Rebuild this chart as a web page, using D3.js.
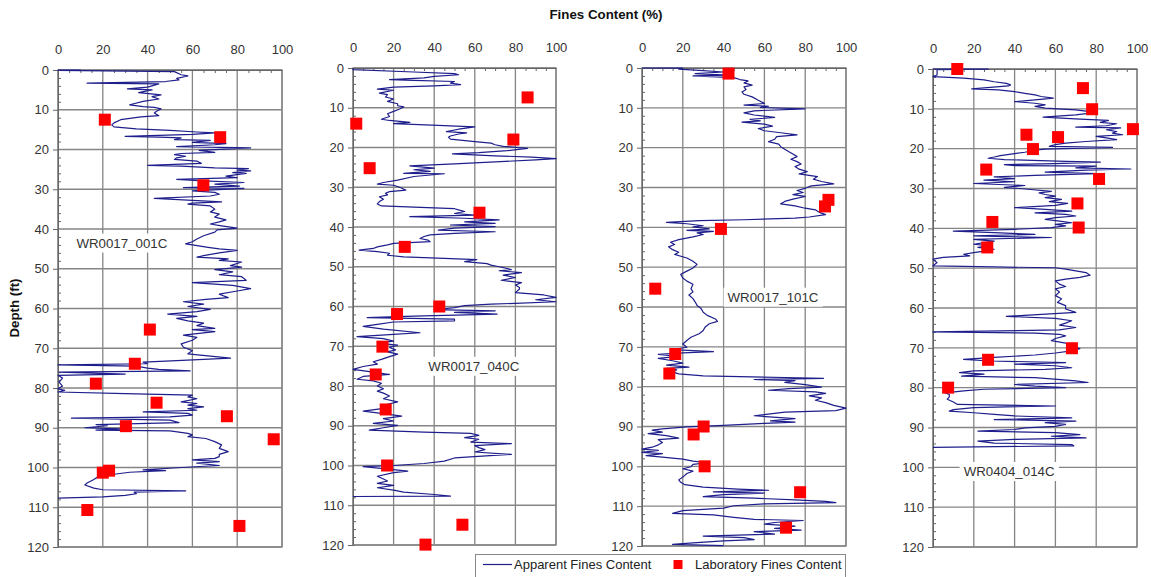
<!DOCTYPE html>
<html>
<head>
<meta charset="utf-8">
<script src="https://cdn.jsdelivr.net/npm/d3@7"></script>
<style>
  body { margin: 0; background: #fff; }
  text { font-family: "Liberation Sans", Arial, sans-serif; }
</style>
</head>
<body>
<svg width="1151" height="577"></svg>
<script>
// [depth (ft), fines (%)]
const trace001C = [
  [0,0],[0.05,10],[0.1,0],[0.4,52],[1.2,55],[1.5,58],[2.1,53],[2.5,54],[2.9,48],[3.3,13],[3.5,45],[4.3,40],[4.75,31],[5,42],[5.7,36],[6.25,46],[6.7,42],[7.3,45],[7.9,38],[8.75,32],[9.2,38],[9.4,43],[9.8,46],[10.4,44],[10.8,43],[11.5,45],[11.8,37],[12.5,28],[13.3,25],[13.8,24],[14.3,25],[14.8,35],[15.2,50],[15.6,62],[15.8,70],[16.2,60],[16.7,30],[16.9,45],[17.1,55],[17.5,52],[17.7,68],[18.2,60],[18.5,75],[18.8,70],[19.3,53],[19.6,86],[20.2,63],[20.7,70],[21,55],[21.3,52],[21.7,57],[22.1,53],[22.5,52],[22.9,62],[23.5,64],[24,40],[24.2,55],[24.6,70],[24.8,85],[25.2,80],[25.4,86],[25.8,78],[26,84],[26.7,75],[27.1,80],[27.5,53],[27.9,65],[28.3,83],[28.7,70],[29.2,81],[29.6,56],[29.8,83],[30.4,60],[30.8,70],[31.25,72],[31.7,68],[32.3,43],[32.8,60],[33.2,73],[33.5,60],[33.75,58],[34.2,68],[35,70],[35.7,68],[36.25,72],[37,70],[37.7,75],[38.2,72],[38.75,68],[39.2,73],[39.8,80],[40.2,71],[40.8,70],[41.7,65],[42.5,62],[43.2,60],[43.75,57],[44,60],[44.6,67],[45,72],[45.4,80],[46,72],[46.7,65],[47.1,62],[47.5,76],[47.9,72],[48.3,82],[49.2,77],[49.6,82],[50.2,70],[50.8,78],[51.5,72],[52,82],[52.9,84],[53.5,60],[54.2,78],[55,86],[55.6,80],[56.4,72],[57.25,76],[57.7,66],[58.3,56],[58.9,65],[59.5,58],[60.2,68],[60.8,62],[61.4,49],[62,62],[62.5,53],[63.1,58],[63.7,65],[64.3,62],[65,70],[65.3,60],[65.8,70],[66.7,56],[67.25,62],[68,60],[68.9,55],[69.75,56],[70.6,60],[71.4,58],[72,68],[72.5,77],[73.1,53],[73.5,38],[73.9,40],[74.2,0],[74.5,35],[75,40],[75.3,45],[75.7,59],[76,0.5],[76.5,30],[76.8,0],[77.5,2],[78.5,0.5],[79.5,2],[80.2,0],[80.6,3],[81,0],[81.4,30],[81.8,60],[82.25,58],[82.7,62],[83.5,55],[83.9,62],[84.3,58],[84.75,65],[85.2,58],[85.6,62],[86,38],[86.4,58],[86.8,60],[87.25,50],[87.6,6],[88.1,50],[88.7,54],[89.2,17],[89.5,22],[90,12],[90.3,28],[90.6,17],[90.8,50],[91.4,58],[91.8,60],[92.25,58],[92.7,66],[93.5,70],[94.3,73],[95.2,72],[96,76],[96.7,72],[97.25,72],[97.7,70],[98.1,60],[98.5,72],[98.9,62],[99.5,72],[100,55],[100.6,38],[100.8,48],[101.2,32],[101.7,25],[102.25,18],[103,16],[103.9,13],[104.4,12],[105.2,16],[105.6,20],[105.9,57],[106.2,34],[106.6,35],[107,30],[107.4,20],[107.7,0]
];
const lab001C = [
  [12.5,20.9],[16.9,72.4],[29,64.9],[65.3,41],[73.9,34.3],[78.9,16.9],[83.7,44],[87.1,75.4],[89.6,30.3],[92.9,96.3],[101.3,20],[100.8,22.8],[110.7,13.1],[114.7,81]
];

const trace040C = [
  [0,0],[0.4,0],[1,30],[1.4,50],[1.7,52],[2.1,40],[2.5,35],[2.9,18],[3.1,30],[3.4,50],[3.8,48],[4.2,53],[4.5,40],[4.8,20],[5.3,12],[5.6,20],[6.3,13],[6.7,17],[7.3,16],[7.8,20],[8.4,17],[9,22],[9.5,22],[9.8,25],[10.3,23],[10.9,20],[11.5,17],[12.2,18],[12.9,14],[13.2,18],[13.7,28],[14,20],[14.5,45],[14.8,60],[15.4,52],[16,46],[16.3,56],[16.6,52],[17.1,48],[17.4,47],[17.9,48],[18.5,60],[18.9,68],[19.3,70],[19.7,74],[20.2,86],[20.8,76],[21.3,62],[21.6,49],[22.1,70],[22.4,88],[22.8,100],[23.1,90],[23.5,75],[24.1,50],[24.6,28],[25.2,40],[25.6,30],[26,38],[26.5,25],[26.6,45],[27.3,30],[28.2,22],[28.8,15],[29.2,12],[29.5,20],[30,23],[30.7,26],[31.1,18],[31.5,16],[31.9,17],[32.4,13],[33,15],[33.6,13],[34.2,12],[34.7,14],[35,30],[35.4,50],[35.7,52],[36.1,55],[36.6,50],[37,60],[37.4,28],[37.8,55],[38.2,72],[38.7,55],[39.1,70],[39.5,48],[39.9,70],[40.3,50],[40.8,42],[41.2,70],[41.6,50],[42,38],[42.4,35],[42.9,33],[43.3,37],[43.7,38],[44.1,20],[44.5,17],[45,12],[45.4,10],[45.8,3],[46.2,12],[46.6,18],[47.1,17],[47.5,25],[47.9,45],[48.2,61],[48.7,55],[49.2,66],[49.6,68],[50,72],[50.7,78],[51,72],[51.5,83],[52.1,74],[52.7,80],[53.4,73],[54,83],[54.6,80],[55.2,82],[55.6,82],[56.5,80],[57.1,94],[57.7,100],[58.3,90],[58.8,100],[59.2,80],[59.4,68],[59.8,55],[60.3,50],[60.8,40],[61.1,70],[61.5,50],[61.9,71],[62.4,30],[62.8,7],[63.2,50],[63.6,50],[63.9,20],[64.5,12],[65,5],[65.7,15],[66.6,33],[67,20],[67.6,2],[68.1,15],[68.7,20],[69.2,12],[69.7,22],[70.3,18],[70.9,21],[71.4,17],[72,22],[72.6,18],[73.3,14],[73.9,10],[74.5,12],[75.1,5],[75.8,0],[76.5,10],[77.1,18],[77.6,5],[78.3,2],[78.7,10],[79.3,14],[80,12],[80.7,15],[81.3,12],[81.8,15],[82.5,18],[83.2,15],[84,22],[84.6,17],[85.5,17],[86.3,5],[86.9,14],[87.6,24],[88.2,15],[88.8,20],[89.4,10],[89.9,22],[90.5,15],[91.1,8],[91.6,35],[91.9,58],[92.4,62],[93,55],[93.4,62],[94.1,58],[94.5,78],[95,60],[95.5,62],[96,65],[96.6,60],[97.2,78],[98.1,50],[98.9,45],[99.5,35],[100,20],[100.3,5],[100.8,15],[101.4,27],[101.8,20],[102.7,12],[103.4,15],[103.9,17],[104.5,12],[105,20],[105.6,12],[106.2,20],[106.7,25],[107.3,40],[107.7,48],[107.8,0]
];
const lab040C = [
  [7.4,86],[14,1.6],[18,79],[25.2,8.2],[36.4,62.3],[45,25.5],[60,42.5],[61.9,21.7],[70.1,14.5],[77.1,11.2],[85.9,16.1],[100,16.8],[114.9,53.9],[119.9,35.7]
];

const trace101C = [
  [0,0],[0.05,20],[0.3,18],[0.6,28],[1,40],[1.4,26],[1.8,42],[2,25],[2.4,45],[2.9,48],[3.25,52],[3.75,50],[4.3,54],[4.75,50],[5.4,51],[6,49],[6.6,50],[7.25,54],[8.1,57],[8.9,60],[9.3,50],[9.6,62],[9.9,58],[10.25,80],[10.75,55],[11.25,50],[11.8,55],[12.4,65],[12.9,53],[13.25,58],[13.6,49],[14.1,60],[14.6,64],[15.2,57],[15.75,60],[16.25,68],[16.8,76],[17.25,66],[17.9,65],[18.5,62],[19.1,67],[19.75,68],[20.4,70],[21,72],[21.6,74],[22.25,76],[22.9,73],[23.5,76],[24.1,78],[24.75,75],[25.4,77],[26,81],[26.6,77],[27.25,86],[27.9,84],[28.5,88],[29.1,94],[29.6,83],[30.2,80],[30.75,76],[31.25,79],[31.8,74],[32.25,80],[32.9,74],[33.5,70],[34.1,68],[34.6,75],[35.2,80],[35.6,85],[36.25,87],[36.8,90],[37.4,82],[37.7,75],[38.1,50],[38.3,28],[38.75,12],[39.1,22],[39.6,30],[39.9,25],[40.4,33],[40.75,22],[41,35],[41.4,27],[41.8,30],[42.4,25],[43.1,18],[43.75,14],[44.3,16],[44.9,13],[45.6,15],[46.25,18],[46.8,16],[47.7,22],[48.5,25],[49.3,27],[50.2,25],[51,22],[51.8,19],[52.7,20],[53.5,22],[54.3,25],[55.4,24],[56.2,25],[57,23],[57.9,25],[58.7,26],[59.6,27],[60.4,29],[61.3,30],[62.1,32],[63,36],[63.6,37],[64.2,33],[65,31],[65.9,30],[66.7,28],[67.6,24],[68.4,22],[69.3,20],[70.1,22],[70.7,15],[71.2,35],[71.5,20],[71.9,8],[72.4,18],[72.9,8],[73.5,15],[74.1,20],[74.6,12],[75.1,23],[75.4,12],[75.8,17],[76.3,15],[76.8,18],[77.3,30],[77.7,70],[77.9,89],[78.2,55],[78.5,75],[78.9,70],[79.5,80],[80.1,88],[80.5,72],[80.9,62],[81.3,85],[81.7,90],[82.3,82],[82.8,88],[83.4,85],[84,90],[84.7,94],[85.4,100],[86,95],[86.4,70],[87.3,55],[88,75],[88.6,63],[88.9,75],[89.2,60],[89.7,40],[90.1,22],[90.6,10],[90.9,5],[91.4,10],[91.8,3],[92.3,12],[92.9,18],[93.3,8],[94,10],[94.6,8],[95.2,5],[95.7,0],[96,8],[96.5,0],[96.8,10],[97.3,2],[97.7,10],[98.2,20],[98.7,25],[99.1,32],[99.5,25],[100.1,24],[100.6,20],[101.2,25],[101.8,22],[102.7,20],[103.4,18],[104,19],[104.6,21],[105.2,30],[105.7,47],[106,62],[106.4,35],[106.7,60],[107.1,40],[107.6,30],[108,55],[108.4,75],[108.8,90],[109.1,95],[109.4,60],[109.9,45],[110.5,40],[111.1,20],[111.8,15],[112.2,35],[112.8,45],[113.3,55],[113.6,79],[114.1,65],[114.5,60],[115,75],[115.6,65],[116,78],[116.4,55],[117,65],[117.5,30],[117.9,50],[118.4,55],[118.7,40],[119.2,25],[119.6,15],[119.9,40]
];
const lab101C = [
  [1.4,42.4],[33.1,91.4],[34.75,89.7],[40.4,38.7],[55.4,6.5],[71.8,16.3],[76.7,13.4],[90,30.2],[92,25.3],[100,30.7],[106.5,77.5],[115.4,70.6]
];

const trace014C = [
  [0,0],[0.05,27],[0.15,2],[0.4,2],[1.5,2],[1.9,0],[2.3,15],[2.75,25],[3.2,30],[3.6,36],[4,38],[4.25,37],[4.6,28],[5,19],[5.25,32],[5.7,40],[6.1,45],[6.5,50],[6.9,53],[7.3,59],[7.75,50],[8.2,40],[8.6,50],[9,55],[9.4,50],[9.8,55],[10.25,70],[10.9,80],[11.5,70],[12.1,54],[12.6,72],[12.9,86],[13.4,82],[13.75,90],[14.25,85],[14.6,70],[14.8,92],[15.25,85],[15.7,90],[16.1,88],[16.5,93],[16.9,80],[17.3,85],[17.75,90],[18.2,75],[18.6,65],[19,60],[19.4,57],[19.7,88],[20.1,55],[20.4,50],[20.9,45],[21.25,40],[21.75,33],[22.1,30],[22.4,27],[22.75,35],[23.2,65],[23.4,82],[23.75,60],[24,35],[24.25,40],[24.4,80],[24.8,70],[25.1,97],[25.4,75],[25.9,55],[26.25,80],[26.7,50],[27.1,30],[27.5,40],[27.9,25],[28.3,40],[28.75,20],[29.25,45],[29.7,35],[30.25,48],[30.7,58],[31.1,52],[31.5,55],[31.9,60],[32.3,55],[32.75,63],[33.3,57],[33.75,66],[34.25,60],[34.8,40],[35.25,55],[35.7,68],[36.1,50],[36.5,65],[36.9,70],[37.3,60],[37.75,55],[38.2,62],[38.6,68],[39,60],[39.4,65],[39.8,58],[40.25,40],[40.7,10],[41.1,30],[41.5,50],[41.9,20],[42.3,58],[42.75,20],[43.2,30],[43.6,25],[44,20],[44.4,28],[44.8,22],[45.25,30],[45.7,25],[46.1,20],[46.5,15],[46.9,18],[47.3,5],[47.75,0],[48.6,2],[49.4,0],[49.7,30],[49.9,60],[50.25,65],[50.7,70],[51.1,75],[51.75,77],[52.3,72],[52.75,65],[53.2,60],[54,62],[54.6,65],[55.2,60],[56,62],[56.9,60],[57.7,63],[58.6,61],[59.4,65],[60.25,65],[61.1,70],[62.1,36],[62.6,60],[63.2,68],[63.8,65],[64.3,62],[64.9,70],[65.5,62],[66,0],[66.3,50],[66.6,62],[67,65],[67.65,60],[68.2,58],[68.8,65],[69.5,68],[70.2,72],[70.75,68],[71.3,60],[71.8,50],[72.4,30],[72.9,15],[73.3,28],[73.7,65],[74.1,40],[74.5,60],[75,68],[75.4,55],[75.8,20],[76.2,13],[76.6,25],[77.1,14],[77.5,50],[77.9,61],[78.3,70],[78.7,76],[79.2,40],[79.6,50],[80,65],[80.4,25],[80.8,15],[81.3,6],[81.7,8],[82.3,8],[82.9,7],[83.6,10],[84.2,12],[84.6,60],[85,20],[85.5,10],[85.9,8],[86.3,20],[86.7,30],[87.1,40],[87.6,68],[88,30],[88.4,70],[88.8,55],[89.2,65],[89.7,60],[90.1,45],[90.5,40],[90.9,22],[91.3,60],[91.8,72],[92.2,58],[92.6,75],[93,40],[93.4,22],[93.9,30],[94.3,68],[94.6,69],[95,0]
];
const lab014C = [
  [0,11.9],[4.8,73.5],[10.1,78],[15.1,98],[16.5,45.8],[17.1,61.3],[20.1,49],[25.25,26.1],[27.6,81.4],[33.75,70.8],[38.4,29.1],[39.8,71.4],[44.8,26.6],[70.1,68.1],[73,27],[80,7.4]
];

const xTicks = [0, 20, 40, 60, 80, 100];
const yTicks = [0, 10, 20, 30, 40, 50, 60, 70, 80, 90, 100, 110, 120];
const xMinor = d3.range(0, 101, 5).filter(v => v % 20);
const yMinor = d3.range(0, 121, 2).filter(v => v % 10);

const panels = [
  { name: 'WR0017_001C', trace: trace001C, lab: lab001C, left: 58,  right: 282,  top: 70, bottom: 547, tag: [28.5, 43.5] },
  { name: 'WR0017_040C', trace: trace040C, lab: lab040C, left: 353, right: 556,  top: 68, bottom: 545, tag: [59.5, 75] },
  { name: 'WR0017_101C', trace: trace101C, lab: lab101C, left: 642, right: 846,  top: 68, bottom: 546, tag: [64.2, 57.5] },
  { name: 'WR0404_014C', trace: trace014C, lab: lab014C, left: 933, right: 1137, top: 69, bottom: 547, tag: [37.3, 101] }
];

const lineColor = '#1e1e8c';
const gridColor = '#858585';
const svg = d3.select('svg');

panels.forEach(p => {
  const x = d3.scaleLinear().domain([0, 100]).range([p.left, p.right]);
  const y = d3.scaleLinear().domain([0, 120]).range([p.top, p.bottom]);
  const g = svg.append('g');
  const w = p.right - p.left, h = p.bottom - p.top;

  // gridlines
  g.append('g').selectAll('line.v').data(xTicks).enter().append('line')
    .attr('x1', d => x(d)).attr('x2', d => x(d)).attr('y1', p.top).attr('y2', p.bottom)
    .attr('stroke', gridColor).attr('stroke-width', 1.3);
  g.append('g').selectAll('line.h').data(yTicks).enter().append('line')
    .attr('x1', p.left).attr('x2', p.right).attr('y1', d => y(d)).attr('y2', d => y(d))
    .attr('stroke', gridColor).attr('stroke-width', 1.3);
  g.append('rect').attr('x', p.left).attr('y', p.top).attr('width', w).attr('height', h)
    .attr('fill', 'none').attr('stroke', gridColor).attr('stroke-width', 1.3);

  // axes
  const top = g.append('g').attr('transform', `translate(0,${p.top})`)
    .call(d3.axisTop(x).tickValues(xTicks).tickSize(0).tickPadding(16));
  const left = g.append('g').attr('transform', `translate(${p.left},0)`)
    .call(d3.axisLeft(y).tickValues(yTicks).tickSize(5).tickPadding(4));
  [top, left].forEach(a => {
    a.select('.domain').attr('stroke', '#666');
    a.selectAll('.tick line').attr('stroke', '#666');
    a.selectAll('text').attr('font-size', 13).attr('fill', '#333')
      .style('font-family', '"Liberation Sans", Arial, sans-serif');
  });
  // minor ticks (inside)
  g.append('g').attr('transform', `translate(0,${p.top})`)
    .call(d3.axisTop(x).tickValues(xMinor).tickSize(-3).tickFormat(''))
    .call(a => { a.select('.domain').remove(); a.selectAll('line').attr('stroke', '#666'); });
  g.append('g').attr('transform', `translate(${p.left},0)`)
    .call(d3.axisLeft(y).tickValues(yMinor).tickSize(-3).tickFormat(''))
    .call(a => { a.select('.domain').remove(); a.selectAll('line').attr('stroke', '#666'); });

  // panel tag with white box
  const tg = g.append('g').attr('transform', `translate(${x(p.tag[0])},${y(p.tag[1])})`);
  const tt = tg.append('text').attr('text-anchor', 'middle').attr('dy', '0.35em')
    .attr('font-size', 13.3).attr('fill', '#333').text(p.name);
  const bb = tt.node().getBBox();
  tg.insert('rect', 'text').attr('x', bb.x - 4).attr('y', bb.y - 2)
    .attr('width', bb.width + 8).attr('height', bb.height + 4).attr('fill', '#fff');

  // apparent fines trace
  const line = d3.line().x(d => x(d[1])).y(d => y(d[0]));
  g.append('path').datum(p.trace).attr('d', line)
    .attr('fill', 'none').attr('stroke', lineColor).attr('stroke-width', 1.2)
    .attr('stroke-linejoin', 'round');

  // laboratory squares
  const s = 12;
  g.append('g').selectAll('rect').data(p.lab).enter().append('rect')
    .attr('x', d => x(d[1]) - s / 2).attr('y', d => y(d[0]) - s / 2)
    .attr('width', s).attr('height', s).attr('fill', '#ff0000');
});

// titles
svg.append('text').attr('x', 606).attr('y', 19).attr('text-anchor', 'middle')
  .attr('font-size', 13.3).attr('font-weight', 'bold').attr('fill', '#111').text('Fines Content (%)');
svg.append('text').attr('transform', 'translate(19,308) rotate(-90)').attr('text-anchor', 'middle')
  .attr('font-size', 13.3).attr('font-weight', 'bold').attr('fill', '#111').text('Depth (ft)');

// legend
const lg = svg.append('g');
lg.append('rect').attr('x', 475.5).attr('y', 554.5).attr('width', 370).attr('height', 30)
  .attr('fill', '#fff').attr('stroke', '#888');
lg.append('line').attr('x1', 483).attr('x2', 512).attr('y1', 564.5).attr('y2', 564.5)
  .attr('stroke', lineColor).attr('stroke-width', 1.2);
lg.append('text').attr('x', 514).attr('y', 569).attr('font-size', 13).attr('fill', '#222')
  .text('Apparent Fines Content');
lg.append('rect').attr('x', 673.5).attr('y', 560).attr('width', 9).attr('height', 9).attr('fill', '#ff0000');
lg.append('text').attr('x', 695).attr('y', 569).attr('font-size', 13).attr('fill', '#222')
  .text('Laboratory Fines Content');
</script>
</body>
</html>
